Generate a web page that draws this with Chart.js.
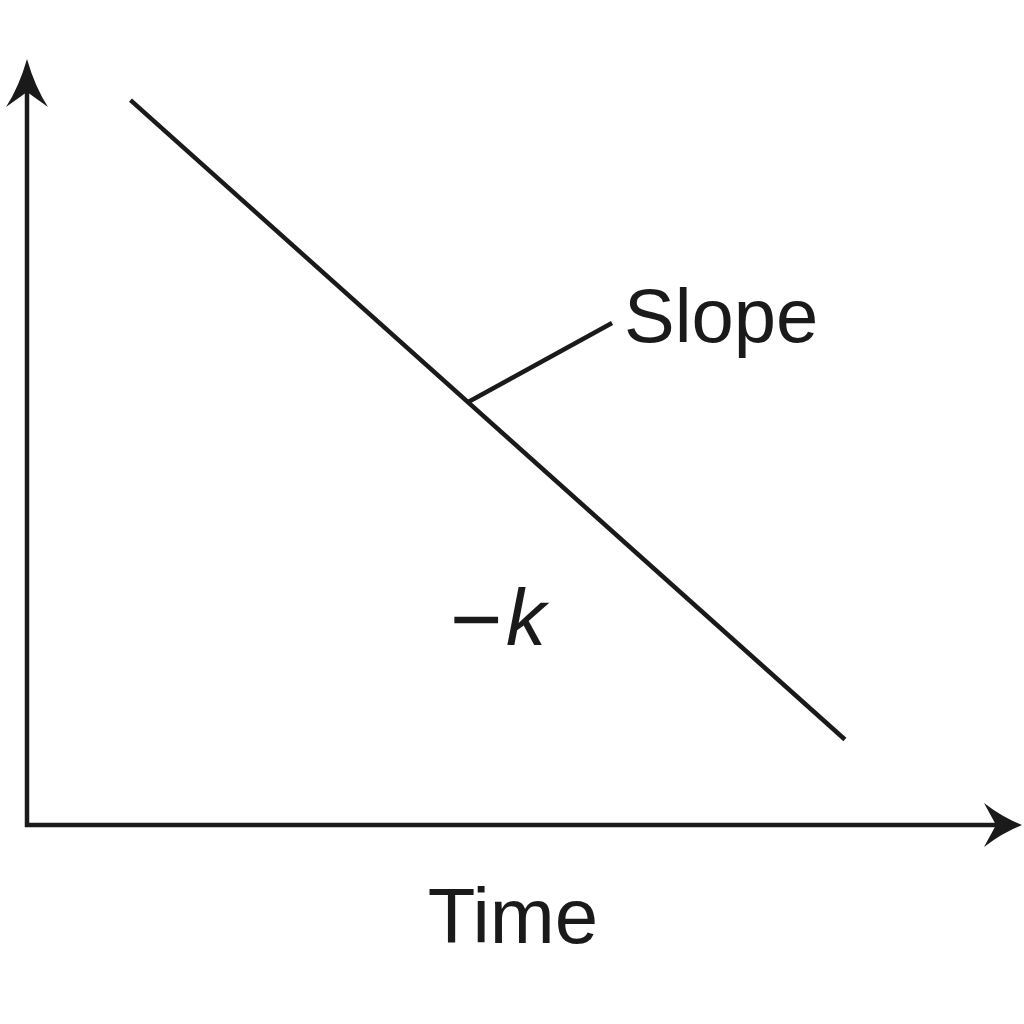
<!DOCTYPE html>
<html>
<head>
<meta charset="utf-8">
<title>Slope -k vs Time</title>
<script src="https://cdn.jsdelivr.net/npm/chart.js@4.4.0/dist/chart.umd.min.js"></script>
<style>
    html, body { margin: 0; padding: 0; background: #ffffff; }
    #wrap { width: 1024px; height: 1024px; }
</style>
</head>
<body>
<div id="wrap"><canvas id="decay-chart" width="1024" height="1024"></canvas></div>
<script>
// Data (arbitrary units, axes 0..100)
var lineX = [10.4, 82.2];
var lineY = [95, 11.2];
var leaderX = [44.3, 58.8];
var leaderY = [55.4, 65.8];
var xLabel = "Time";
var slopeLabel = "Slope";
var slopeSign = "\u2212";
var slopeValue = "k";

var ink = "#1a1a1a";

function toPoints(xs, ys) {
    return xs.map(function (x, i) { return {x: x, y: ys[i]}; });
}

// Axes with arrowheads and the text labels
var sketchPlugin = {
    id: "sketch",
    afterDraw: function (chart) {
        var ctx = chart.ctx;
        var sx = chart.scales.x, sy = chart.scales.y;
        var ox = sx.getPixelForValue(0), oy = sy.getPixelForValue(0);
        var xEnd = sx.getPixelForValue(100), yEnd = sy.getPixelForValue(100);

        ctx.save();
        ctx.strokeStyle = ink;
        ctx.fillStyle = ink;
        ctx.lineWidth = 4.5;
        ctx.lineCap = "butt";

        // axis lines
        ctx.beginPath();
        ctx.moveTo(ox, oy + 2);
        ctx.lineTo(ox, yEnd + 20);
        ctx.moveTo(ox - 2, oy);
        ctx.lineTo(xEnd - 20, oy);
        ctx.stroke();

        // y arrowhead
        ctx.beginPath();
        ctx.moveTo(ox, yEnd - 3);
        ctx.quadraticCurveTo(ox - 8, yEnd + 25, ox - 21, yEnd + 45);
        ctx.quadraticCurveTo(ox, yEnd + 30, ox, yEnd + 30);
        ctx.quadraticCurveTo(ox, yEnd + 30, ox + 21, yEnd + 45);
        ctx.quadraticCurveTo(ox + 8, yEnd + 25, ox, yEnd - 3);
        ctx.fill();

        // x arrowhead
        ctx.beginPath();
        ctx.moveTo(xEnd, oy);
        ctx.quadraticCurveTo(xEnd - 20, oy - 8, xEnd - 38, oy - 22);
        ctx.quadraticCurveTo(xEnd - 26, oy, xEnd - 26, oy);
        ctx.quadraticCurveTo(xEnd - 26, oy, xEnd - 38, oy + 22);
        ctx.quadraticCurveTo(xEnd - 20, oy + 8, xEnd, oy);
        ctx.fill();

        // labels
        ctx.textBaseline = "alphabetic";
        ctx.textAlign = "center";
        ctx.font = "78px 'Liberation Sans', Arial, sans-serif";
        ctx.fillText(xLabel, 513, 943);

        ctx.textAlign = "left";
        ctx.font = "76px 'Liberation Sans', Arial, sans-serif";
        ctx.fillText(slopeLabel, 624, 342);

        ctx.font = "90px 'Liberation Sans', Arial, sans-serif";
        ctx.fillText(slopeSign, 450, 650);
        ctx.font = "italic 80px 'Liberation Sans', Arial, sans-serif";
        ctx.fillText(slopeValue, 506, 645);
        ctx.restore();
    }
};

var ctx1 = document.getElementById("decay-chart").getContext("2d");
var myChart1 = new Chart(ctx1, {
    type: "scatter",
    data: {
        datasets: [{
                label: "Decay",
                data: toPoints(lineX, lineY),
                showLine: true,
                borderColor: ink,
                borderWidth: 4.5,
                pointRadius: 0,
                fill: false
            },
            {
                label: "Leader",
                data: toPoints(leaderX, leaderY),
                showLine: true,
                borderColor: ink,
                borderWidth: 4.5,
                pointRadius: 0,
                fill: false
            }
        ]
    },
    options: {
        responsive: false,
        animation: false,
        devicePixelRatio: 1,
        layout: {padding: {left: 27, right: 2, top: 62, bottom: 199}},
        plugins: {
            legend: {display: false},
            tooltip: {enabled: false}
        },
        scales: {
            x: {type: "linear", min: 0, max: 100, display: false},
            y: {type: "linear", min: 0, max: 100, display: false}
        }
    },
    plugins: [sketchPlugin]
});
</script>
</body>
</html>
